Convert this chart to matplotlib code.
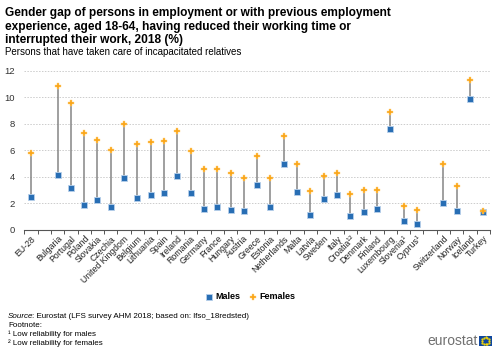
import matplotlib.pyplot as plt
from matplotlib.patches import Rectangle
import numpy as np

plt.rcParams['font.family'] = ['Liberation Sans', 'DejaVu Sans']

countries = ['EU-28', '', 'Bulgaria', 'Portugal', 'Poland', 'Slovakia', 'Czechia',
             'United Kingdom', 'Belgium', 'Lithuania', 'Spain', 'Ireland', 'Romania',
             'Germany', 'France', 'Hungary', 'Austria', 'Greece', 'Estonia',
             'Netherlands', 'Malta', 'Latvia', 'Sweden', 'Italy', 'Croatia\u00b9\u00b2',
             'Denmark', 'Finland', 'Luxembourg', 'Slovenia\u00b9', 'Cyprus\u00b9', '',
             'Switzerland', 'Norway', 'Iceland', 'Turkey']
males = [2.5, None, 4.15, 3.15, 1.86, 2.3, 1.76, 3.9, 2.45, 2.64, 2.8, 4.05, 2.8,
         1.58, 1.74, 1.5, 1.43, 3.37, 1.74, 4.95, 2.9, 1.13, 2.31, 2.64, 1.06,
         1.38, 1.58, 7.62, 0.7, 0.45, None, 2.06, 1.46, 9.9, 1.33]
females = [5.8, None, 10.9, 9.6, 7.3, 6.8, 6.0, 8.0, 6.5, 6.66, 6.7, 7.47, 5.96,
           4.58, 4.6, 4.3, 3.9, 5.56, 3.9, 7.1, 4.95, 2.94, 4.1, 4.3, 2.69,
           3.02, 3.02, 8.88, 1.78, 1.5, None, 5.0, 3.35, 11.3, 1.46]

blue = '#286eb4'
orange = '#faa519'

fig = plt.figure(figsize=(5, 3.52), dpi=100)
ax = fig.add_axes([0.0486, 0.3466, 0.9314, 0.4517])

x = np.arange(len(countries))
idx = [i for i in x if males[i] is not None]
m = np.array([males[i] for i in idx])
f = np.array([females[i] for i in idx])

ax.vlines(idx, m, f, color='#858585', lw=1.1, zorder=2)
ax.scatter(idx, m, marker='s', s=18, color=blue, edgecolor='#b8d0ea', lw=0.6, zorder=3, label='Males')
ax.scatter(idx, f, marker='P', s=22, color=orange, edgecolor='#ffd27a', lw=0.3, zorder=4, label='Females')

ax.set_xlim(-0.5, len(countries) - 0.5)
ax.set_ylim(0, 12)
ax.set_yticks(range(0, 13, 2))
ax.grid(axis='y', color='#cccccc', ls=(0, (1.5, 1.5)), lw=0.7)
ax.set_axisbelow(True)
for s in ['top', 'right', 'left']:
    ax.spines[s].set_visible(False)
ax.spines['bottom'].set_color('#555555')
ax.spines['bottom'].set_linewidth(0.8)
ax.tick_params(axis='y', length=0, labelsize=6.8, colors='#333333', pad=7)

ax.set_xticks(x)
ax.set_xticklabels(countries, rotation=45, ha='right', rotation_mode='anchor', fontsize=6.3)
ax.tick_params(axis='x', length=0, pad=3, colors='#222222')
ax.set_xticks(np.arange(-0.5, len(countries)), minor=True)
ax.tick_params(axis='x', which='minor', length=3, color='#555555', width=0.7)

fig.text(0.01, 0.979, 'Gender gap of persons in employment or with previous employment\n'
         'experience, aged 18-64, having reduced their working time or\n'
         'interrupted their work, 2018 (%)',
         fontsize=8.6, fontweight='bold', va='top', linespacing=1.17)
fig.text(0.01, 0.852, 'Persons that have taken care of incapacitated relatives', fontsize=7, va='center')

fig.legend(loc='center', bbox_to_anchor=(0.5, 0.158), ncol=2, frameon=False,
           handlelength=0.8, handletextpad=0.3, columnspacing=1.0, markerscale=0.9,
           prop={'weight': 'bold', 'size': 6.5})

fig.text(0.016, 0.102, 'Source', fontsize=5.8, style='italic', va='center')
fig.text(0.063, 0.102, ': Eurostat (LFS survey AHM 2018; based on: lfso_18redsted)', fontsize=5.8, va='center')
fig.text(0.016, 0.076, 'Footnote:', fontsize=5.8, va='center')
fig.text(0.016, 0.050, '\u00b9 Low reliability for males', fontsize=5.8, va='center')
fig.text(0.016, 0.024, '\u00b2 Low reliability for females', fontsize=5.8, va='center')

fig.text(0.956, 0.030, 'eurostat', fontsize=10, color='#707070', ha='right', va='center')
fig.patches.append(Rectangle((0.958, 0.018), 0.026, 0.028, transform=fig.transFigure,
                             facecolor='#0e47a0', edgecolor='none'))
ang = np.linspace(0, 2 * np.pi, 12, endpoint=False)
fig.add_artist(plt.Line2D(0.971 + 0.0075 * np.cos(ang), 0.032 + 0.0105 * np.sin(ang),
                          transform=fig.transFigure, ls='none', marker='.', ms=1.2,
                          color='#ffdd00'))

fig.savefig('out.png', dpi=100)
